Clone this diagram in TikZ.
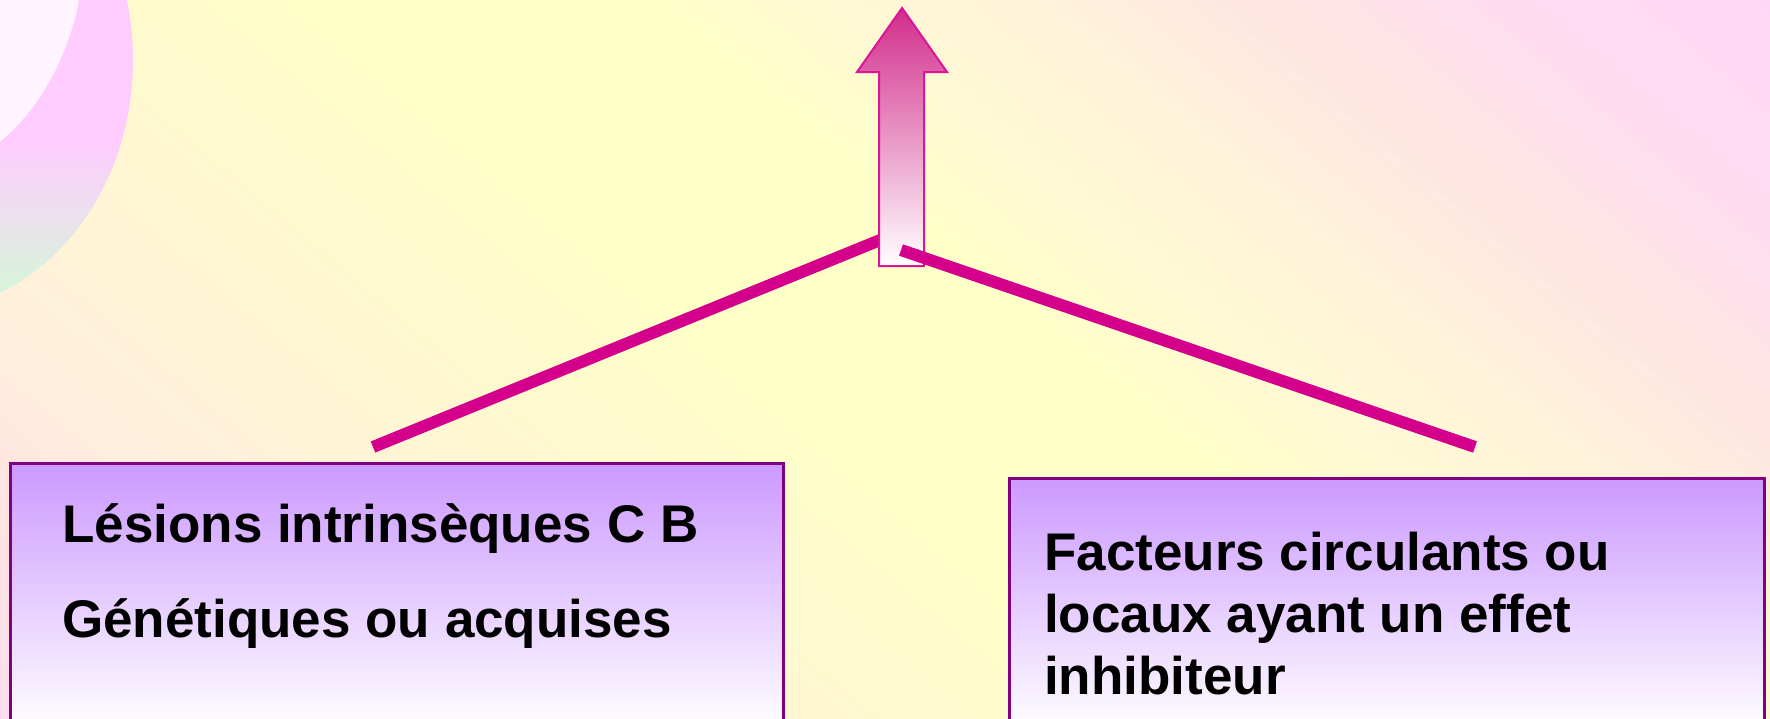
\documentclass[tikz,border=0pt]{standalone}
\usepackage{fontspec}
\setmainfont{Liberation Sans}
\usetikzlibrary{positioning}

\definecolor{bgyellow}{RGB}{255,255,200}
\definecolor{bgbutter}{RGB}{255,250,205}
\definecolor{bgivory}{RGB}{255,244,214}
\definecolor{bgcream}{RGB}{255,248,213}
\definecolor{bgsand}{RGB}{255,242,218}
\definecolor{bgpeach}{RGB}{255,238,221}
\definecolor{bgrose}{RGB}{255,232,224}
\definecolor{bgroseb}{RGB}{255,230,224}
\definecolor{bgblush}{RGB}{255,220,240}
\definecolor{bgpinka}{RGB}{255,218,240}
\definecolor{bgpinkb}{RGB}{255,214,248}
\definecolor{blobpink}{RGB}{255,204,255}
\definecolor{blobgreen}{RGB}{212,248,216}
\definecolor{blobwhite}{RGB}{255,244,255}
\definecolor{linkmag}{RGB}{212,0,140}
\definecolor{arrowtop}{RGB}{210,45,140}
\definecolor{arrowline}{RGB}{220,20,150}
\definecolor{boxlav}{RGB}{204,153,255}
\definecolor{boxedge}{RGB}{128,0,128}

\tikzset{
    panel/.style={draw=boxedge, line width=3pt, top color=boxlav,
        middle color=boxlav!40!white, bottom color=white,
        anchor=north west, inner sep=0pt},
    boxtext/.style={anchor=base west, inner sep=0pt,
        font=\bfseries\fontsize{53}{62}\selectfont},
    link/.style={draw=linkmag, line width=12pt}
}

\begin{document}
\begin{tikzpicture}[x=1pt, y=-1pt]
    \useasboundingbox (0,0) rectangle (1770,718);
    \clip (0,0) rectangle (1770,718);

    % Background, in bands across the diagonal
    \begin{scope}[shift={(885,359)}, rotate=50]
        \foreach \pa/\ca/\pb/\cb in {-900/bgpinka/-654/bgroseb, -654/bgroseb/-562/bgpeach,
            -562/bgpeach/-407/bgivory, -407/bgivory/-229/bgbutter, -229/bgbutter/-100/bgyellow,
            -100/bgyellow/130/bgyellow, 130/bgyellow/246/bgcream, 246/bgcream/381/bgsand,
            381/bgsand/484/bgrose, 484/bgrose/670/bgblush, 670/bgblush/900/bgpinkb} {
            \foreach \k in {0,...,9} {
                \pgfmathsetmacro\lo{\pa+(\pb-\pa)*\k/10}
                \pgfmathsetmacro\hi{\pa+(\pb-\pa)*(\k+1)/10+1}
                \pgfmathtruncatemacro\mix{\k*10+5}
                \fill[\cb!\mix!\ca] (\lo,-1000) rectangle (\hi,1000);
            }
        }
    \end{scope}

    % Corner blob
    \begin{scope}
        \clip (-80,60) ellipse [x radius=213, y radius=251];
        \fill[blobpink] (-10,-10) rectangle (150,140);
        \shade[top color=blobpink, bottom color=blobgreen] (-10,140) rectangle (150,300);
    \end{scope}
    \fill[blobwhite] (-100,-60) ellipse [x radius=185, y radius=240];

    % Boxes
    \node[panel, minimum width=773pt, minimum height=268pt] (lesbox) at (9,462) {};
    \node[panel, minimum width=755pt, minimum height=253pt] (facbox) at (1008,477) {};

    % Link ends
    \coordinate (lestop) at (373,447);
    \coordinate (facttop) at (1475,447);
    \coordinate (shaftleft) at (890,236);
    \coordinate (shaftmid) at (901,250);

    \draw[link] (lestop) -- (shaftleft);

    % Arrow
    \shade[draw=arrowline, line width=2pt, top color=arrowtop, bottom color=white]
        (902,8) -- (947,72) -- (924,72) -- (924,266) -- (879,266) -- (879,72) -- (857,72) -- cycle;

    \draw[link] (shaftmid) -- (facttop);

    % Texts
    \node[boxtext] (lestxt) at (62,542) {Lésions intrinsèques C B};
    \node[boxtext] (gentxt) at (62,637) {Génétiques ou acquises};
    \foreach \i/\y/\txt in {1/570/Facteurs circulants ou, 2/632/locaux ayant un effet, 3/694/inhibiteur} {
        \node[boxtext] (fac\i) at (1044,\y) {\txt};
    }
\end{tikzpicture}
\end{document}
